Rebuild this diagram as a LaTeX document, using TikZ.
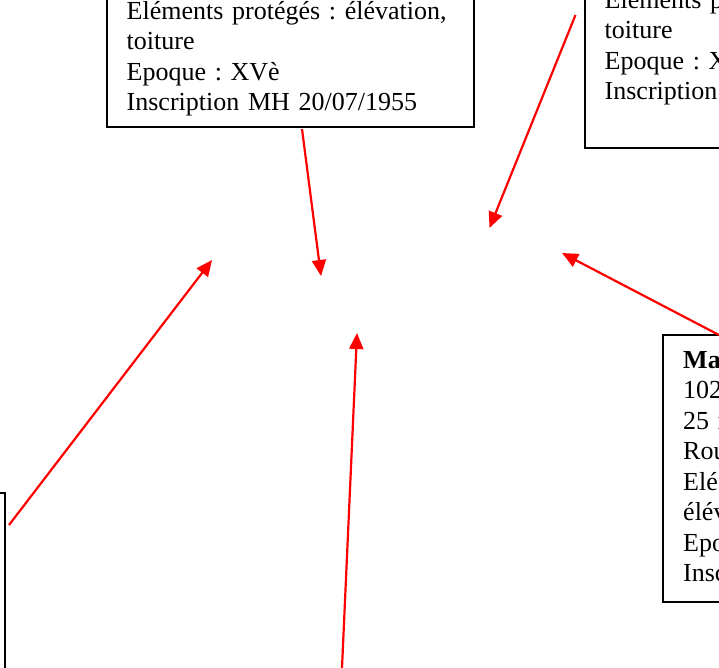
\documentclass[tikz,border=0pt]{standalone}
\usepackage{fontspec}
\setmainfont{Liberation Serif}
\usetikzlibrary{arrows.meta}
\frenchspacing
\tikzset{
  box/.style={draw=black, line width=1.8pt, fill=none, inner sep=0pt},
  txt/.style={inner sep=0pt, anchor=base west, text width=420pt, align=left,
              font=\fontsize{26}{30.5}\selectfont\frenchspacing},
  arr/.style={draw=red, line width=2.2pt, -{Triangle[length=16pt,width=14pt]}}
}
\begin{document}
\begin{tikzpicture}[x=1pt,y=-1pt]
\useasboundingbox (0,0) rectangle (719,667);
\clip (0,0) rectangle (719,667);
% boxes
\node[box, minimum width=367pt, minimum height=200pt, anchor=south west] (b1) at (106,128) {};
\node[box, minimum width=220pt, minimum height=220pt, anchor=south west] (b2) at (584,149) {};
\node[box, minimum width=120pt, minimum height=267pt, anchor=north west] (b3) at (662,334) {};
\node[box, minimum width=120pt, minimum height=250pt, anchor=north east] (b4) at (6,492) {};
% texts
\node[txt] (t1) at (126.5,19) {Eléments protégés : élévation,\\toiture\\Epoque : XVè\\Inscription MH 20/07/1955};
\node[txt] (t2) at (604.5,8) {Eléments p\\toiture\\Epoque : X\\Inscription};
\node[txt] (t3) at (683,368) {\textbf{Ma}\\102\\25 r\\Rou\\Elé\\élév\\Epo\\Insc};
% connector ends
\coordinate (s1) at (302,129);
\coordinate (e1) at (321,276);
\coordinate (s2) at (575.5,15);
\coordinate (e2) at (489.5,228);
\coordinate (s3) at (719,335);
\coordinate (e3) at (562,253);
\coordinate (s4) at (9,525);
\coordinate (e4) at (212,260);
\coordinate (s5) at (341,690);
\coordinate (e5) at (357,333);
\draw[arr] (s1) -- (e1);
\draw[arr] (s2) -- (e2);
\draw[arr] (s3) -- (e3);
\draw[arr] (s4) -- (e4);
\draw[arr] (s5) -- (e5);
\end{tikzpicture}
\end{document}
